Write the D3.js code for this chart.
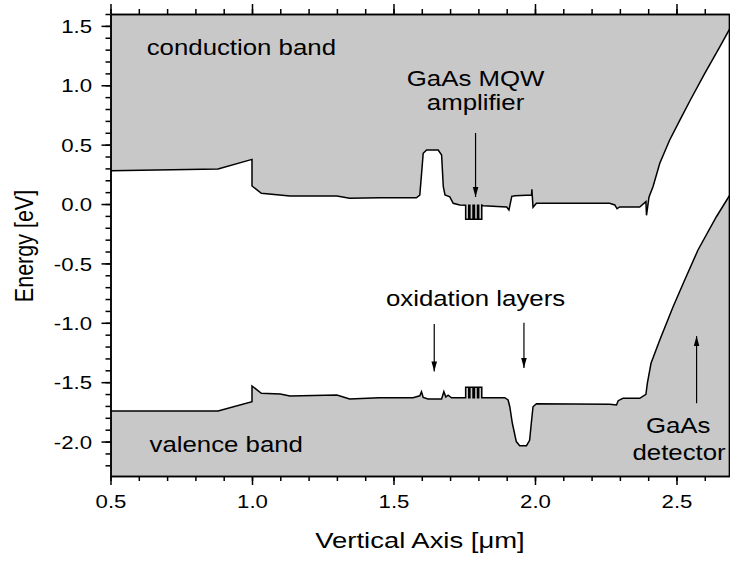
<!DOCTYPE html>
<html>
<head>
<meta charset="utf-8">
<script src="https://cdn.jsdelivr.net/npm/d3@7"></script>
<style>
  body { margin: 0; background: #fff; }
  text { font-family: Arial, "Liberation Sans", sans-serif; fill: #000; }
</style>
</head>
<body>
<script>
// band edges: [position (um), energy (eV)]
var conduction = [
  [0.5, 0.28], [0.88, 0.295], [1.0, 0.376], [1.0, 0.152], [1.033, 0.09], [1.134, 0.067],
  [1.30, 0.067], [1.345, 0.048], [1.451, 0.053], [1.581, 0.053], [1.593, 0.076],
  [1.599, 0.25], [1.605, 0.427], [1.617, 0.455], [1.658, 0.455], [1.67, 0.413],
  [1.676, 0.146], [1.682, 0.076], [1.699, 0.061], [1.711, 0.006], [1.734, -0.008],
  [1.755, -0.01], [1.755, -0.129], [1.766, -0.129], [1.766, -0.01], [1.770, -0.01],
  [1.770, -0.129], [1.781, -0.129], [1.781, -0.01], [1.786, -0.01], [1.786, -0.129],
  [1.797, -0.129], [1.797, -0.01], [1.801, -0.01], [1.801, -0.129], [1.812, -0.129],
  [1.812, -0.01], [1.817, -0.015], [1.90, -0.025], [1.908, -0.05], [1.918, 0.065],
  [1.93, 0.07], [1.988, 0.075], [1.989, 0.124], [1.993, -0.028], [2.005, 0.006],
  [2.264, 0.006], [2.282, -0.008], [2.29, -0.04], [2.299, -0.025], [2.37, -0.025],
  [2.392, 0.02], [2.394, -0.095], [2.403, 0.06], [2.417, 0.146], [2.441, 0.343],
  [2.476, 0.539], [2.512, 0.707], [2.55, 0.88], [2.60, 1.10], [2.65, 1.31], [2.687, 1.47]
];
var valence = [
  [0.5, -1.743], [0.88, -1.743], [1.0, -1.665], [1.0, -1.532], [1.033, -1.594], [1.10, -1.60],
  [1.134, -1.617], [1.30, -1.608], [1.345, -1.642], [1.45, -1.631], [1.569, -1.631],
  [1.593, -1.615], [1.599, -1.58], [1.605, -1.628], [1.622, -1.642], [1.67, -1.642],
  [1.678, -1.58], [1.685, -1.625], [1.693, -1.61], [1.705, -1.631],
  [1.755, -1.631], [1.755, -1.543], [1.766, -1.543], [1.766, -1.631], [1.770, -1.631],
  [1.770, -1.543], [1.781, -1.543], [1.781, -1.631], [1.786, -1.631], [1.786, -1.543],
  [1.797, -1.543], [1.797, -1.631], [1.801, -1.631], [1.801, -1.543], [1.812, -1.543],
  [1.812, -1.631], [1.893, -1.631], [1.905, -1.65], [1.911, -1.707], [1.92, -1.846],
  [1.934, -2.0], [1.946, -2.035], [1.97, -2.035], [1.981, -1.99], [1.987, -1.846],
  [1.993, -1.707], [2.005, -1.681], [2.264, -1.686], [2.288, -1.692], [2.294, -1.656],
  [2.311, -1.636], [2.37, -1.636], [2.392, -1.602], [2.397, -1.51], [2.41, -1.341],
  [2.441, -1.145], [2.488, -0.865], [2.529, -0.64], [2.576, -0.387], [2.641, -0.107],
  [2.687, 0.07]
];

var xTicks = [0.5, 1.0, 1.5, 2.0, 2.5];
var yTicks = [-2.0, -1.5, -1.0, -0.5, 0.0, 0.5, 1.0, 1.5];

// labels: [text, x (um), y (eV), anchor]
var labels = [
  ["conduction band", 0.628, 1.255, "start"],
  ["GaAs MQW", 1.79, 0.993, "middle"],
  ["amplifier", 1.79, 0.791, "middle"],
  ["oxidation layers", 1.79, -0.859, "middle"],
  ["valence band", 0.638, -2.091, "start"],
  ["GaAs", 2.506, -1.928, "middle"],
  ["detector", 2.509, -2.155, "middle"]
];
// arrows: [x, from E, to E]
var arrows = [
  [1.79, 0.598, 0.059],
  [1.644, -1.01, -1.41],
  [1.961, -1.0, -1.38],
  [2.571, -1.677, -1.112]
];

var w = 730, h = 561;
var stretch = 1.2;   // text in the picture is a little wide

var x = d3.scaleLinear().domain([0.5, 2.687]).range([110.5, 729.4]);
var y = d3.scaleLinear().domain([-2.29, 1.6]).range([476, 14]);

var svg = d3.select("body").append("svg")
  .attr("width", w).attr("height", h);

svg.append("defs").append("clipPath").attr("id", "plot")
  .append("rect")
  .attr("x", x.range()[0]).attr("y", y.range()[1])
  .attr("width", x.range()[1] - x.range()[0])
  .attr("height", y.range()[0] - y.range()[1]);

var g = svg.append("g").attr("clip-path", "url(#plot)");

var areaTop = d3.area().x(function(d){ return x(d[0]); })
  .y0(y(1.6)).y1(function(d){ return y(d[1]); });
var areaBot = d3.area().x(function(d){ return x(d[0]); })
  .y0(y(-2.29)).y1(function(d){ return y(d[1]); });
var line = d3.line().x(function(d){ return x(d[0]); }).y(function(d){ return y(d[1]); });

g.append("path").datum(conduction).attr("d", areaTop).attr("fill", "#c8c8c8");
g.append("path").datum(valence).attr("d", areaBot).attr("fill", "#c8c8c8");
g.append("path").datum(conduction).attr("d", line)
  .attr("fill", "none").attr("stroke", "#000").attr("stroke-width", 1.5);
g.append("path").datum(valence).attr("d", line)
  .attr("fill", "none").attr("stroke", "#000").attr("stroke-width", 1.5);

// arrows
svg.append("defs").append("marker")
  .attr("id", "head").attr("viewBox", "0 0 10 10")
  .attr("refX", 10).attr("refY", 5)
  .attr("markerWidth", 10).attr("markerHeight", 10)
  .attr("markerUnits", "userSpaceOnUse")
  .attr("orient", "auto")
  .append("path").attr("d", "M0,2.2L10,5L0,7.8Z").attr("fill", "#000");

svg.selectAll("line.arrow").data(arrows).enter().append("line")
  .attr("class", "arrow")
  .attr("x1", function(d){ return x(d[0]); })
  .attr("x2", function(d){ return x(d[0]); })
  .attr("y1", function(d){ return y(d[1]); })
  .attr("y2", function(d){ return y(d[2]); })
  .attr("stroke", "#000").attr("stroke-width", 1.2)
  .attr("marker-end", "url(#head)");

svg.selectAll("text.lab").data(labels).enter().append("text")
  .attr("class", "lab")
  .attr("transform", function(d){
    return "translate(" + x(d[1]) + "," + y(d[2]) + ") scale(" + stretch + ",1)";
  })
  .attr("text-anchor", function(d){ return d[3]; })
  .attr("font-size", 21.5)
  .text(function(d){ return d[0]; });

// axes
var fmt = function(d){ return d.toFixed(1); };
var xMinor = d3.range(0.5, 2.69, 0.1);
var yMinor = d3.range(-2.2, 1.61, 0.1);

var axB = svg.append("g").attr("transform", "translate(0," + y.range()[0] + ")");
axB.append("g").call(d3.axisBottom(x).tickValues(xMinor).tickSize(5).tickSizeOuter(0).tickFormat(""));
axB.append("g").call(d3.axisBottom(x).tickValues(xTicks).tickSize(9).tickSizeOuter(0).tickFormat(fmt));
axB.selectAll("text").attr("y", 32).attr("dy", 0).attr("font-size", 18.5)
  .attr("transform", "scale(" + stretch + ",1)");

var axT = svg.append("g").attr("transform", "translate(0," + y.range()[1] + ")");
axT.append("g").call(d3.axisTop(x).tickValues(xMinor).tickSize(5).tickSizeOuter(0).tickFormat(""));
axT.append("g").call(d3.axisTop(x).tickValues(xTicks).tickSize(10).tickSizeOuter(0).tickFormat(""));

var axL = svg.append("g").attr("transform", "translate(" + x.range()[0] + ",0)");
axL.append("g").call(d3.axisLeft(y).tickValues(yMinor).tickSize(5).tickSizeOuter(0).tickFormat(""));
axL.append("g").call(d3.axisLeft(y).tickValues(yTicks).tickSize(9).tickSizeOuter(0).tickFormat(fmt));
axL.selectAll("text").attr("x", -18.5 / stretch).attr("dy", "0.36em").attr("font-size", 18.5)
  .attr("transform", "scale(" + stretch + ",1)");

svg.selectAll(".domain, .tick line").attr("stroke", "#000").attr("stroke-width", 1.5);
svg.selectAll(".tick text").attr("fill", "#000").attr("font-family", "Arial, 'Liberation Sans', sans-serif");

svg.append("line")
  .attr("x1", x.range()[1]).attr("x2", x.range()[1])
  .attr("y1", y.range()[1]).attr("y2", y.range()[0])
  .attr("stroke", "#000").attr("stroke-width", 1.5);

svg.append("text")
  .attr("transform", "translate(420,548) scale(1.22,1)")
  .attr("text-anchor", "middle").attr("font-size", 22.5)
  .text("Vertical Axis [\u03bcm]");

svg.append("text")
  .attr("transform", "translate(33,246) rotate(-90) scale(1,1.22)")
  .attr("text-anchor", "middle").attr("font-size", 21.5)
  .text("Energy [eV]");
</script>
</body>
</html>
